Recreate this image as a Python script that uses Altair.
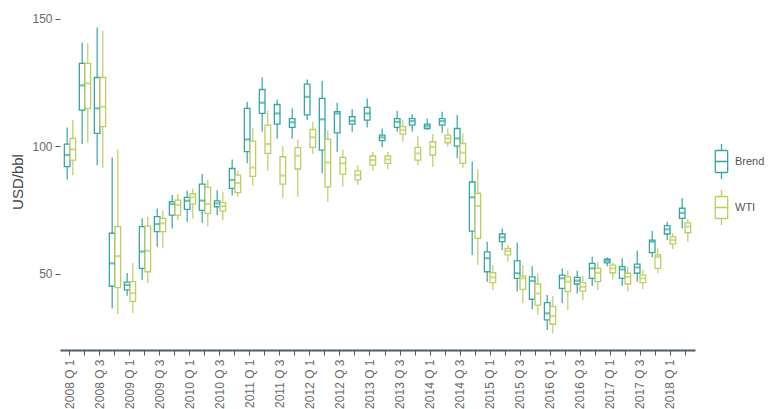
import altair as alt
import pandas as pd

quarters = [
    "2008 Q 1", "2008 Q 2", "2008 Q 3", "2008 Q 4",
    "2009 Q 1", "2009 Q 2", "2009 Q 3", "2009 Q 4",
    "2010 Q 1", "2010 Q 2", "2010 Q 3", "2010 Q 4",
    "2011 Q 1", "2011 Q 2", "2011 Q 3", "2011 Q 4",
    "2012 Q 1", "2012 Q 2", "2012 Q 3", "2012 Q 4",
    "2013 Q 1", "2013 Q 2", "2013 Q 3", "2013 Q 4",
    "2014 Q 1", "2014 Q 2", "2014 Q 3", "2014 Q 4",
    "2015 Q 1", "2015 Q 2", "2015 Q 3", "2015 Q 4",
    "2016 Q 1", "2016 Q 2", "2016 Q 3", "2016 Q 4",
    "2017 Q 1", "2017 Q 2", "2017 Q 3", "2017 Q 4",
    "2018 Q 1", "2018 Q 2",
]

series_names = ["Brend", "WTI"]

# Brent: min, q1, median, q3, max per quarter
brent_min = [86.9, 100.8, 92.5, 36.3, 41.3, 47.5, 60.5, 67.7, 70.3, 69.9, 72.9, 80.6,
             93.3, 105.6, 103.0, 103.0, 110.2, 89.3, 97.8, 105.6, 107.3, 99.5, 105.6, 105.6,
             106.3, 105.2, 95.2, 57.3, 46.8, 59.2, 42.9, 36.0, 27.8, 38.3, 42.2, 45.1,
             52.9, 45.1, 46.8, 56.4, 63.1, 67.7]
brent_q1 = [91.9, 114.1, 105.0, 45.0, 43.6, 52.0, 66.4, 72.9, 75.2, 74.8, 76.2, 83.4,
            97.8, 112.8, 108.6, 107.3, 112.2, 98.4, 105.2, 108.6, 110.2, 102.1, 107.3, 108.2,
            106.9, 108.2, 100.0, 66.6, 50.7, 62.5, 48.1, 39.9, 31.8, 44.2, 45.9, 48.1,
            54.2, 48.1, 50.1, 58.2, 65.5, 71.6]
brent_med = [96.5, 123.8, 114.8, 54.0, 45.5, 58.6, 69.4, 77.3, 78.5, 78.6, 77.5, 86.7,
             102.6, 117.0, 112.8, 109.3, 119.3, 110.5, 112.8, 109.9, 112.8, 103.4, 109.5, 109.8,
             107.8, 109.8, 103.0, 79.9, 56.0, 64.2, 50.1, 47.1, 34.4, 48.1, 47.2, 52.0,
             55.0, 51.6, 52.4, 62.5, 67.3, 73.8]
brent_q3 = [100.8, 132.4, 126.9, 65.8, 46.6, 68.4, 72.3, 78.2, 79.9, 85.1, 78.5, 91.2,
            114.8, 122.2, 116.3, 110.8, 124.3, 118.7, 113.5, 111.5, 115.2, 104.3, 110.8, 110.8,
            108.6, 110.8, 106.9, 85.9, 58.5, 65.5, 55.0, 48.7, 38.6, 49.4, 48.5, 54.0,
            55.6, 52.7, 53.7, 63.1, 68.8, 75.6]
brent_max = [107.3, 140.5, 146.5, 95.5, 50.2, 71.7, 75.5, 80.8, 82.5, 89.0, 82.7, 94.7,
             117.4, 126.9, 118.3, 114.8, 126.1, 125.6, 117.0, 114.4, 118.7, 106.9, 113.8, 112.5,
             110.8, 113.5, 112.2, 93.9, 62.5, 67.7, 62.1, 52.9, 41.6, 52.0, 51.1, 56.6,
             56.4, 56.0, 58.9, 66.8, 70.3, 79.5]

# WTI: min, q1, median, q3, max per quarter
wti_min = [88.6, 101.3, 91.3, 34.1, 34.5, 46.2, 59.9, 71.0, 71.6, 68.4, 71.0, 80.1,
           84.5, 90.3, 79.5, 80.1, 96.9, 78.2, 84.0, 84.7, 90.3, 90.9, 101.7, 92.5,
           91.9, 99.7, 91.3, 53.3, 43.5, 54.6, 38.3, 33.7, 26.5, 35.7, 39.6, 43.5,
           47.7, 42.9, 43.8, 50.1, 59.5, 62.5]
wti_q1 = [94.5, 114.8, 107.6, 44.5, 39.1, 50.7, 66.4, 72.9, 77.3, 73.6, 74.6, 81.7,
          88.1, 97.1, 85.1, 91.0, 99.5, 84.0, 89.0, 86.7, 92.5, 93.2, 104.7, 94.5,
          96.5, 101.3, 93.2, 63.8, 46.4, 57.3, 43.8, 37.6, 30.1, 42.9, 43.1, 46.8,
          50.3, 45.9, 46.4, 52.0, 61.6, 66.0]
wti_med = [98.7, 124.6, 115.4, 56.8, 42.3, 58.9, 69.7, 76.9, 79.9, 77.3, 76.5, 85.5,
           91.6, 100.8, 88.4, 96.2, 103.4, 93.5, 93.2, 88.6, 94.5, 94.8, 106.3, 97.1,
           99.7, 103.0, 97.4, 76.5, 48.5, 58.9, 48.1, 42.2, 33.3, 46.8, 44.8, 50.3,
           52.0, 48.7, 48.1, 56.6, 63.1, 68.4]
wti_q3 = [103.0, 132.4, 126.9, 68.4, 46.8, 68.6, 71.6, 78.8, 81.2, 83.8, 77.8, 88.6,
          101.9, 108.2, 95.8, 99.4, 106.5, 102.6, 95.6, 90.3, 96.1, 96.1, 107.6, 99.5,
          101.7, 104.3, 101.0, 81.5, 50.3, 59.9, 49.0, 45.9, 37.0, 48.7, 46.4, 52.0,
          53.3, 50.1, 49.4, 57.3, 64.4, 69.9]
wti_max = [110.2, 140.3, 145.2, 98.7, 54.1, 72.3, 74.6, 81.2, 83.4, 86.7, 82.1, 90.3,
           107.0, 113.9, 100.0, 102.6, 109.5, 106.0, 98.7, 92.5, 97.8, 97.8, 110.2, 103.9,
           104.7, 106.9, 105.0, 90.9, 53.3, 61.2, 53.3, 50.1, 41.2, 51.1, 49.0, 54.6,
           54.2, 52.7, 51.6, 59.9, 65.8, 71.3]

colors = ["#35A6A2", "#BECD62"]

rows = []
for i, q in enumerate(quarters):
    rows.append(dict(quarter=q, series=series_names[0], lo=brent_min[i], q1=brent_q1[i],
                     med=brent_med[i], q3=brent_q3[i], hi=brent_max[i]))
    rows.append(dict(quarter=q, series=series_names[1], lo=wti_min[i], q1=wti_q1[i],
                     med=wti_med[i], q3=wti_q3[i], hi=wti_max[i]))
df = pd.DataFrame(rows)

# legend glyph drawn as separate line segments only (no fillable area)
legend_path = ("M-0.95,-1.69H0.95 M0.95,-1.69V1.69 M0.95,1.69H-0.95 M-0.95,1.69V-1.69 "
               "M-0.95,0H0.95 M0,-1.69V-2.69 M0,1.69V2.69")

x_enc = alt.X(
    "quarter:N",
    sort=quarters,
    scale=alt.Scale(domain=quarters, paddingInner=0.25, paddingOuter=0.29),
    axis=alt.Axis(
        title=None,
        labelAngle=-90,
        labelAlign="right",
        labelBaseline="middle",
        labelExpr="(indexof(datum.label, 'Q 1') >= 0 || indexof(datum.label, 'Q 3') >= 0) ? datum.label : ''",
        labelOverlap=False,
        labelFont="Liberation Sans",
        labelFontSize=12,
        labelColor="#6a6a6a",
        labelPadding=4,
        domainColor="#4f5b66",
        domainWidth=2,
        tickColor="#555555",
        tickSize=5,
        tickWidth=1,
        grid=False,
    ),
)
xoff = alt.XOffset("series:N", scale=alt.Scale(domain=series_names, paddingInner=0, paddingOuter=0))
y_scale = alt.Scale(domain=[20, 152.2], nice=False, zero=False)
col_scale = alt.Scale(domain=series_names, range=colors)

y_axis = alt.Axis(
    title="USD/bbl",
    values=[50, 100, 150],
    domain=False,
    grid=False,
    tickColor="#555555",
    tickSize=5,
    labelFont="Liberation Sans",
    labelFontSize=12,
    labelColor="#6a6a6a",
    labelPadding=3,
    titleFont="Liberation Sans",
    titleFontSize=15,
    titleFontWeight="normal",
    titleColor="#444444",
    titlePadding=6,
)

legend = alt.Legend(
    title=None,
    orient="none",
    legendX=654,
    legendY=141,
    symbolType=legend_path,
    symbolSize=169,
    symbolStrokeWidth=1.3,
    labelFont="Liberation Sans",
    labelFontSize=11,
    labelColor="#555555",
    labelOffset=6,
    rowPadding=5,
    padding=0,
)

base = alt.Chart(df)

whiskers = base.mark_rule(strokeWidth=1.2).encode(
    x=x_enc,
    xOffset=xoff,
    y=alt.Y("lo:Q", scale=y_scale, axis=y_axis),
    y2="hi:Q",
    color=alt.Color("series:N", scale=col_scale, legend=legend),
)

boxes = base.mark_bar(fill="white", strokeWidth=1.3).encode(
    x=x_enc,
    xOffset=xoff,
    y=alt.Y("q1:Q", scale=y_scale),
    y2="q3:Q",
    stroke=alt.Stroke("series:N", scale=col_scale, legend=None),
)

medians = base.mark_tick(thickness=2.2, size=5.6).encode(
    x=x_enc,
    xOffset=xoff,
    y=alt.Y("med:Q", scale=y_scale),
    fill=alt.Fill("series:N", scale=col_scale, legend=None),
)

chart = alt.layer(whiskers, boxes, medians).properties(
    width=635,
    height=337,
    background="white",
    autosize=alt.AutoSizeParams(type="none"),
    padding={"left": 52, "top": 5, "right": 74, "bottom": 60},
).configure_view(stroke=None)

chart.save("out.html", embed_options={"renderer": "svg", "actions": False})
